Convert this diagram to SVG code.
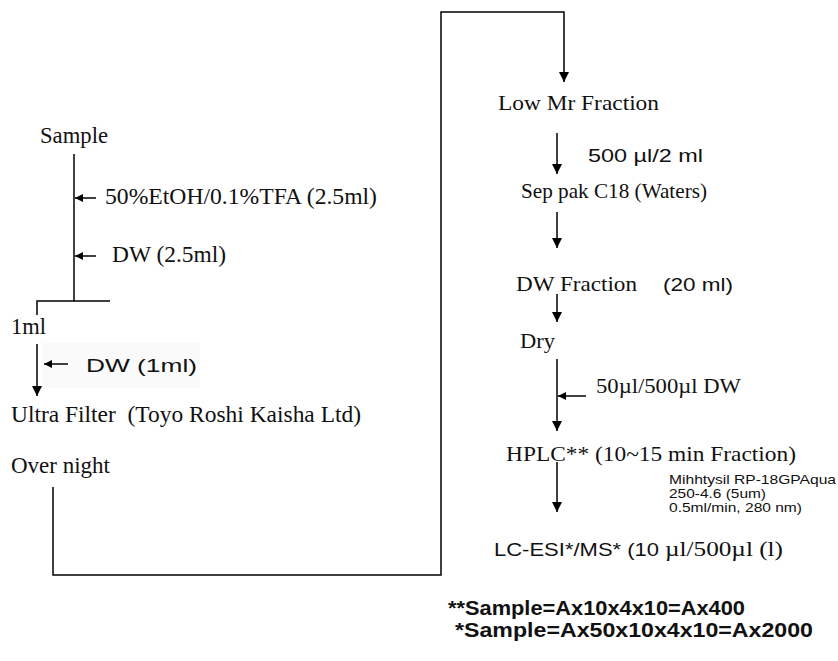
<svg xmlns="http://www.w3.org/2000/svg" width="838" height="661" viewBox="0 0 838 661">
<style>
.s{font-family:"Liberation Serif","Times New Roman",serif;font-size:22px;fill:#111}
.l{font-size:23px}
.a{font-family:"Liberation Sans",Arial,sans-serif;font-size:19px;fill:#111}
.sm{font-family:"Liberation Sans",Arial,sans-serif;font-size:13.5px;fill:#111}
.b{font-family:"Liberation Sans",Arial,sans-serif;font-size:19.5px;font-weight:bold;fill:#111}
.ln{stroke:#000;stroke-width:1.5;fill:none}
</style>
<defs>
<marker id="ah" viewBox="0 0 10 10" refX="10" refY="5" markerWidth="8" markerHeight="8" markerUnits="userSpaceOnUse" orient="auto"><path d="M0,0 L10,5 L0,10 Z" fill="#000"/></marker>
<marker id="av" viewBox="0 0 10 10" refX="10" refY="5" markerWidth="12" markerHeight="10" markerUnits="userSpaceOnUse" orient="auto"><path d="M0,0 L10,5 L0,10 Z" fill="#000"/></marker>
</defs>
<rect width="838" height="661" fill="#fff"/>
<rect x="42" y="343" width="158" height="45" fill="#fafafa"/>
<g id="connectors">
<path class="ln" d="M74,154 V301"/>
<path class="ln" d="M37,315 V301 H110"/>
<path class="ln" d="M96,198 H75" marker-end="url(#ah)"/>
<path class="ln" d="M96,256 H75" marker-end="url(#ah)"/>
<path class="ln" d="M37,344 V396" marker-end="url(#av)"/>
<path class="ln" d="M68,364 H44" marker-end="url(#ah)"/>
<path class="ln" d="M53,487 V575 H441 V12 H564 V82" marker-end="url(#av)"/>
<path class="ln" d="M557,133 V174" marker-end="url(#av)"/>
<path class="ln" d="M557,212 V248" marker-end="url(#av)"/>
<path class="ln" d="M557,294 V322" marker-end="url(#av)"/>
<path class="ln" d="M557,359 V431" marker-end="url(#av)"/>
<path class="ln" d="M586,396 H558" marker-end="url(#ah)"/>
<path class="ln" d="M557,462 V512" marker-end="url(#av)"/>
</g>
<g id="sample"><text class="s l" x="40" y="143" textLength="68" lengthAdjust="spacingAndGlyphs">Sample</text></g>
<g id="etoh"><text class="s l" x="105" y="204" textLength="272" lengthAdjust="spacingAndGlyphs">50%EtOH/0.1%TFA (2.5ml)</text></g>
<g id="dw25"><text class="s l" x="112" y="262" textLength="114" lengthAdjust="spacingAndGlyphs">DW (2.5ml)</text></g>
<g id="ml1"><text class="s l" x="11" y="334" textLength="35" lengthAdjust="spacingAndGlyphs">1ml</text></g>
<g id="dw1"><text class="a" x="86" y="372" fill="#2a2a2a" textLength="111" lengthAdjust="spacingAndGlyphs">DW (1ml)</text></g>
<g id="ultra"><text class="s l" x="11" y="422" textLength="350" lengthAdjust="spacingAndGlyphs">Ultra Filter&#160; (Toyo Roshi Kaisha Ltd)</text></g>
<g id="overnight"><text class="s l" x="11" y="473" textLength="99" lengthAdjust="spacingAndGlyphs">Over night</text></g>
<g id="lowmr"><text class="s" x="498" y="110" textLength="161" lengthAdjust="spacingAndGlyphs">Low Mr Fraction</text></g>
<g id="vol500"><text class="a" x="588" y="162" textLength="115" lengthAdjust="spacingAndGlyphs">500 µl/2 ml</text></g>
<g id="seppak"><text class="s" x="521" y="198" textLength="186" lengthAdjust="spacingAndGlyphs">Sep pak C18 (Waters)</text></g>
<g id="dwfrac"><text class="s" x="516" y="291" textLength="121" lengthAdjust="spacingAndGlyphs">DW Fraction</text><text class="a" x="663" y="291" textLength="70" lengthAdjust="spacingAndGlyphs">(20 ml)</text></g>
<g id="dry"><text class="s" x="520" y="348" textLength="35" lengthAdjust="spacingAndGlyphs">Dry</text></g>
<g id="dw50"><text class="s" x="596" y="393" textLength="145" lengthAdjust="spacingAndGlyphs">50µl/500µl DW</text></g>
<g id="hplc"><text class="s" x="506" y="461" textLength="290" lengthAdjust="spacingAndGlyphs">HPLC** (10~15 min Fraction)</text></g>
<g id="column"><text class="sm" x="669" y="484" textLength="167" lengthAdjust="spacingAndGlyphs">Mihhtysil RP-18GPAqua</text><text class="sm" x="669" y="498" textLength="97" lengthAdjust="spacingAndGlyphs">250-4.6 (5um)</text><text class="sm" x="669" y="512" textLength="133" lengthAdjust="spacingAndGlyphs">0.5ml/min, 280 nm)</text></g>
<g id="lcms"><text class="a" x="494" y="556" textLength="165" lengthAdjust="spacingAndGlyphs">LC-ESI*/MS* (10 </text><text class="s" x="665" y="556" textLength="118" lengthAdjust="spacingAndGlyphs">µl/500µl (l)</text></g>
<g id="notes"><text class="b" x="448" y="615" textLength="297" lengthAdjust="spacingAndGlyphs">**Sample=Ax10x4x10=Ax400</text><text class="b" x="455" y="637" textLength="358" lengthAdjust="spacingAndGlyphs">*Sample=Ax50x10x4x10=Ax2000</text></g>
</svg>
